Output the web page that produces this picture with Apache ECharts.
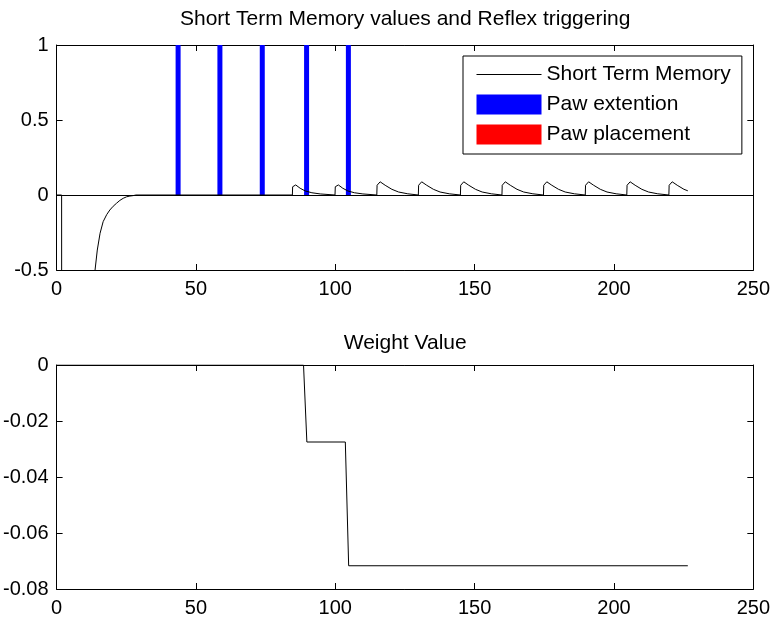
<!DOCTYPE html>
<html>
<head>
<meta charset="utf-8">
<script src="https://cdn.jsdelivr.net/npm/echarts/dist/echarts.min.js"></script>
<style>
  html, body { margin: 0; padding: 0; background: #fff; }
  #chart { width: 773px; height: 619px; }
</style>
</head>
<body>
<div id="chart"></div>
<script>
// Short term memory trace: initial dip and recovery, [time, value]
const stmRecovery = [
  [0, 0], [1.8, 0], [1.9, -4], [8, -2.2], [12, -0.85], [13.8, -0.5], [14.6, -0.367],
  [15.6, -0.255], [16.7, -0.178], [18, -0.13], [19.1, -0.1], [20.3, -0.075],
  [21.5, -0.055], [22.7, -0.036], [23.9, -0.022], [25.1, -0.012], [26.3, -0.007],
  [27.5, -0.004], [28.5, 0]
];

// Short term memory trace: periodic pulses, [time, value]
const stmPulses = [
  [84.6, 0], [84.7, 0.055], [85.8, 0.067], [87.4, 0.045], [89.2, 0.027], [91.6, 0.015], [92.1, 0.007], [94.6, 0.007], [94.8, 0],
  [99.9, 0], [100, 0.055], [101.1, 0.067], [102.7, 0.045], [104.5, 0.027], [106.9, 0.015], [107.4, 0.007], [109.9, 0.007], [110.1, 0],
  [114.9, 0], [115, 0.065], [116.1, 0.088], [117.9, 0.065], [120.3, 0.038], [122.7, 0.02], [123.2, 0.008], [126, 0.008], [126.2, 0],
  [129.8, 0], [129.9, 0.065], [131, 0.088], [132.8, 0.065], [135.2, 0.038], [137.6, 0.02], [138.1, 0.008], [140.9, 0.008], [141.1, 0],
  [144.9, 0], [145, 0.065], [146.1, 0.088], [147.9, 0.065], [150.3, 0.038], [152.7, 0.02], [153.2, 0.008], [156, 0.008], [156.2, 0],
  [159.8, 0], [159.9, 0.065], [161, 0.088], [162.8, 0.065], [165.2, 0.038], [167.6, 0.02], [168.1, 0.008], [170.9, 0.008], [171.1, 0],
  [174.7, 0], [174.8, 0.065], [175.9, 0.088], [177.7, 0.065], [180.1, 0.038], [182.5, 0.02], [183, 0.008], [185.8, 0.008], [186, 0],
  [189.7, 0], [189.8, 0.065], [190.9, 0.088], [192.7, 0.065], [195.1, 0.038], [197.5, 0.02], [198, 0.008], [200.8, 0.008], [201, 0],
  [204.6, 0], [204.7, 0.065], [205.8, 0.088], [207.6, 0.065], [210, 0.038], [212.4, 0.02], [212.9, 0.008], [215.7, 0.008], [215.9, 0],
  [219.7, 0], [219.8, 0.065], [220.9, 0.088], [222.7, 0.065], [225.1, 0.038], [226.5, 0.028]
];

// Reflex triggers, [time, height]
const pawExtention = [[43.6, 1], [58.6, 1], [73.8, 1], [89.7, 1], [104.7, 1]];
const pawPlacement = [];

// Weight value over time, [time, value]
const weightValue = [
  [0, 0], [88.6, 0], [89.8, -0.0275], [103.6, -0.0275], [104.8, -0.0717], [226.5, -0.0717]
];

// Axis ranges and tick steps
const timeAxis = { min: 0, max: 250, interval: 50 };
const stmAxis = { min: -0.5, max: 1, interval: 0.5 };
const weightAxis = { min: -0.08, max: 0, interval: 0.02 };

const FONT = "'Liberation Sans', Arial, Helvetica, sans-serif";
const INK = '#000';

function boxAxis(dim, gridIndex, range, position, labelled) {
  return {
    type: 'value',
    gridIndex: gridIndex,
    position: position,
    min: range.min,
    max: range.max,
    interval: range.interval,
    axisLine: { show: true, onZero: false, lineStyle: { color: INK, width: 1 } },
    axisTick: { show: true, inside: true, length: 6, lineStyle: { color: INK, width: 1 } },
    axisLabel: {
      show: labelled,
      margin: dim === 'x' ? 9 : 8,
      fontSize: 20,
      fontFamily: FONT,
      color: INK
    },
    splitLine: { show: false }
  };
}

const chart = echarts.init(document.getElementById('chart'), null, { renderer: 'canvas' });

chart.setOption({
  animation: false,
  backgroundColor: '#fff',
  grid: [
    { left: 56.6, right: 19.3, top: 45, height: 225 },
    { left: 56.6, right: 19.3, top: 365, height: 224 }
  ],
  xAxis: [
    boxAxis('x', 0, timeAxis, 'bottom', true),
    boxAxis('x', 0, timeAxis, 'top', false),
    boxAxis('x', 1, timeAxis, 'bottom', true),
    boxAxis('x', 1, timeAxis, 'top', false)
  ],
  yAxis: [
    boxAxis('y', 0, stmAxis, 'left', true),
    boxAxis('y', 0, stmAxis, 'right', false),
    boxAxis('y', 1, weightAxis, 'left', true),
    boxAxis('y', 1, weightAxis, 'right', false)
  ],
  graphic: [
    {
      type: 'text', x: 405.2, y: 19,
      style: {
        text: 'Short Term Memory values and Reflex triggering',
        font: '21px ' + FONT, fill: INK, align: 'center', verticalAlign: 'middle'
      }
    },
    {
      type: 'text', x: 405.2, y: 343,
      style: {
        text: 'Weight Value',
        font: '21px ' + FONT, fill: INK, align: 'center', verticalAlign: 'middle'
      }
    }
  ],
  legend: {
    orient: 'vertical',
    left: 463,
    top: 56,
    padding: [8, 11, 9, 13],
    itemWidth: 65,
    itemHeight: 20,
    itemGap: 9,
    selectedMode: false,
    borderColor: INK,
    borderWidth: 1,
    backgroundColor: '#fff',
    textStyle: { fontSize: 21, fontFamily: FONT, color: INK },
    data: [
      { name: 'Short Term Memory', itemStyle: { opacity: 0 }, lineStyle: { width: 1, color: INK } },
      { name: 'Paw extention', icon: 'rect' },
      { name: 'Paw placement', icon: 'rect' }
    ]
  },
  series: [
    {
      name: 'Short Term Memory',
      type: 'line',
      xAxisIndex: 0,
      yAxisIndex: 0,
      data: stmRecovery.concat(stmPulses),
      symbol: 'none',
      clip: true,
      lineStyle: { color: INK, width: 1 },
      itemStyle: { color: INK }
    },
    {
      name: 'Paw extention',
      type: 'bar',
      xAxisIndex: 0,
      yAxisIndex: 0,
      data: pawExtention,
      barWidth: 5,
      barGap: '-100%',
      itemStyle: { color: '#0000ff' },
      markLine: {
        silent: true,
        symbol: ['none', 'none'],
        label: { show: false },
        lineStyle: { color: INK, type: 'solid', width: 1 },
        data: [{ yAxis: 0 }]
      }
    },
    {
      name: 'Paw placement',
      type: 'bar',
      xAxisIndex: 0,
      yAxisIndex: 0,
      data: pawPlacement,
      barWidth: 5,
      barGap: '-100%',
      itemStyle: { color: '#ff0000' }
    },
    {
      name: 'Weight Value',
      type: 'line',
      xAxisIndex: 2,
      yAxisIndex: 2,
      data: weightValue,
      symbol: 'none',
      lineStyle: { color: INK, width: 1 },
      itemStyle: { color: INK }
    }
  ]
});
</script>
</body>
</html>
